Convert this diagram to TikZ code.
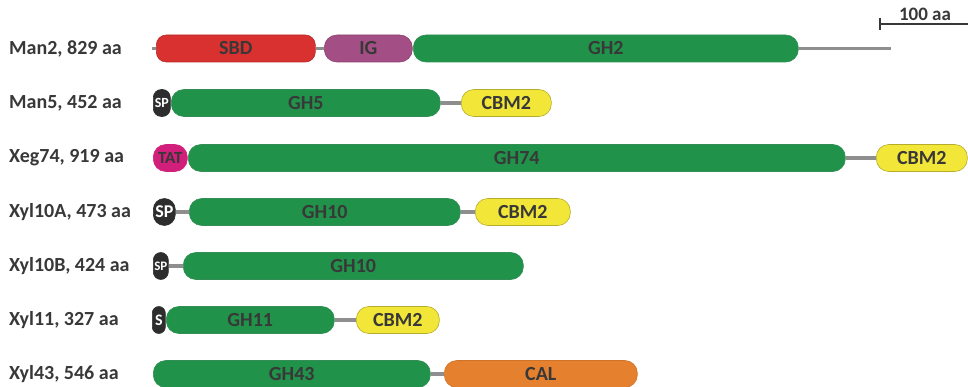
\documentclass[tikz,border=0pt]{standalone}
\usepackage{fontspec}
\setmainfont{Carlito}
\definecolor{cred}{HTML}{D8312F}
\definecolor{cpurple}{HTML}{A34E84}
\definecolor{cgreen}{HTML}{20924A}
\definecolor{cyellow}{HTML}{F2E639}
\definecolor{cmagenta}{HTML}{D21F7B}
\definecolor{corange}{HTML}{E5802F}
\definecolor{cdark}{HTML}{2D2D2D}
\definecolor{ctext}{HTML}{383838}
\definecolor{cline}{HTML}{8E8E8E}
\tikzset{
  dom/.style={rectangle, rounded corners=12.5pt, anchor=west, minimum height=27pt, inner sep=0pt,
    text=ctext, font=\fontsize{20}{22}\selectfont\bfseries, line width=0.6pt},
  green/.style={dom, fill=cgreen, draw=cgreen!80!gray},
  yellowd/.style={dom, fill=cyellow, draw=cyellow!75!black},
  sig/.style={dom, fill=cdark, draw=cdark, text=white, font=\fontsize{14}{16}\selectfont\bfseries},
  link/.style={draw=cline, line width=3.6pt},
  lab/.style={anchor=west, text=ctext, font=\fontsize{20}{22}\selectfont\bfseries, inner sep=0pt}
}
\begin{document}
\begin{tikzpicture}[x=1pt,y=-1pt]
\useasboundingbox (0,0) rectangle (968,387);
% labels
\node[lab] (l1) at (9,48.5) {Man2, 829 aa};
\node[lab] (l2) at (9,103) {Man5, 452 aa};
\node[lab] (l3) at (9,158) {Xeg74, 919 aa};
\node[lab] (l4) at (9,212) {Xyl10A, 473 aa};
\node[lab] (l5) at (9,266) {Xyl10B, 424 aa};
\node[lab] (l6) at (9,320) {Xyl11, 327 aa};
\node[lab] (l7) at (9,374) {Xyl43, 546 aa};
% Man2
\coordinate (m2s) at (152,48.5);
\coordinate (m2e) at (891,48.5);
\node[dom, fill=cred, draw=cred!85!black, minimum width=159pt, rounded corners=10pt] (sbd) at (156,48.5) {SBD};
\node[dom, fill=cpurple, draw=cpurple!85!black, minimum width=88pt] (ig) at (324,48.5) {IG};
\node[green, minimum width=385pt] (gh2) at (413,48.5) {GH2};
\draw[link] (m2s) -- (sbd.west);
\draw[link] (sbd.east) -- (ig.west);
\draw[link] (gh2.east) -- (m2e);
% Man5
\node[sig, minimum width=17pt, rounded corners=8pt] (sp1) at (153,103) {SP};
\node[green, minimum width=269pt] (gh5) at (171,103) {GH5};
\node[yellowd, minimum width=90pt] (cbm1) at (461,103) {CBM2};
\draw[link] (gh5.east) -- (cbm1.west);
% Xeg74
\node[dom, fill=cmagenta, draw=cmagenta, minimum width=34pt, font=\fontsize{17}{19}\selectfont\bfseries] (tat) at (153,158) {TAT};
\node[green, minimum width=657pt] (gh74) at (188,158) {GH74};
\node[yellowd, minimum width=91pt] (cbm2) at (876,158) {CBM2};
\draw[link] (gh74.east) -- (cbm2.west);
% Xyl10A
\node[sig, minimum width=22pt, rounded corners=11pt, font=\fontsize{18}{20}\selectfont\bfseries] (sp2) at (153,212) {SP};
\node[green, minimum width=271pt] (gh10a) at (189,212) {GH10};
\node[yellowd, minimum width=95pt] (cbm3) at (475,212) {CBM2};
\draw[link] (sp2.east) -- (gh10a.west);
\draw[link] (gh10a.east) -- (cbm3.west);
% Xyl10B
\node[sig, minimum width=15pt, rounded corners=7.5pt, font=\fontsize{13}{15}\selectfont\bfseries] (sp3) at (153,266) {SP};
\node[green, minimum width=340pt] (gh10b) at (183,266) {GH10};
\draw[link] (sp3.east) -- (gh10b.west);
% Xyl11
\node[sig, minimum width=13pt, rounded corners=6.5pt, font=\fontsize{16}{18}\selectfont\bfseries] (s4) at (152,320) {S};
\node[green, minimum width=168pt] (gh11) at (166,320) {GH11};
\node[yellowd, minimum width=83pt] (cbm4) at (356,320) {CBM2};
\draw[link] (gh11.east) -- (cbm4.west);
% Xyl43
\node[green, minimum width=277pt] (gh43) at (153,374) {GH43};
\node[dom, fill=corange, draw=corange!90!black, minimum width=193pt] (cal) at (444,374) {CAL};
\draw[link] (gh43.east) -- (cal.west);
% scale bar
\coordinate (sb1) at (880,24);
\coordinate (sb2) at (968,24);
\coordinate (sbt) at (880,18);
\coordinate (sbb) at (880,30);
\draw[ctext, line width=1.6pt] (sb1) -- (sb2);
\draw[ctext, line width=1.6pt] (sbt) -- (sbb);
\node[text=ctext, font=\fontsize{19}{21}\selectfont\bfseries, inner sep=0pt, anchor=base] (sbl) at (925,20.5) {100 aa};
\end{tikzpicture}
\end{document}
